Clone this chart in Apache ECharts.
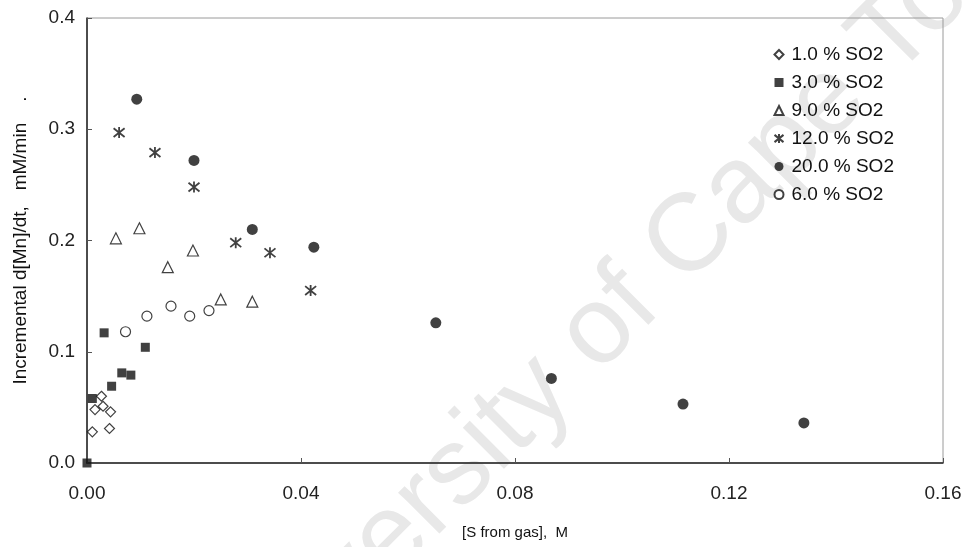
<!DOCTYPE html>
<html>
<head>
<meta charset="utf-8">
<script src="https://cdn.jsdelivr.net/npm/echarts@6/dist/echarts.min.js"></script>
<style>
  html, body { margin: 0; padding: 0; background: #fff; }
  #chart { width: 965px; height: 547px; }
</style>
</head>
<body>
<div id="chart"></div>
<script>
// [S from gas] (M) vs incremental d[Mn]/dt (mM/min), one array pair per SO2 level
const so2_1_x  = [0.001, 0.0015, 0.0027, 0.0030, 0.0044, 0.0042];
const so2_1_y  = [0.028, 0.048, 0.060, 0.051, 0.046, 0.031];

const so2_3_x  = [0.0000, 0.0010, 0.0046, 0.0065, 0.0082, 0.0109, 0.0032];
const so2_3_y  = [0.000, 0.058, 0.069, 0.081, 0.079, 0.104, 0.117];

const so2_9_x  = [0.0054, 0.0098, 0.0151, 0.0198, 0.0250, 0.0309];
const so2_9_y  = [0.202, 0.211, 0.176, 0.191, 0.147, 0.145];

const so2_12_x = [0.0060, 0.0127, 0.0200, 0.0278, 0.0342, 0.0418];
const so2_12_y = [0.297, 0.279, 0.248, 0.198, 0.189, 0.155];

const so2_20_x = [0.0093, 0.0200, 0.0309, 0.0424, 0.0652, 0.0868, 0.1114, 0.1340];
const so2_20_y = [0.327, 0.272, 0.210, 0.194, 0.126, 0.076, 0.053, 0.036];

const so2_6_x  = [0.0072, 0.0112, 0.0157, 0.0192, 0.0228];
const so2_6_y  = [0.118, 0.132, 0.141, 0.132, 0.137];

const seriesNames = ['1.0 % SO2', '3.0 % SO2', '9.0 % SO2', '12.0 % SO2', '20.0 % SO2', '6.0 % SO2'];
const xTicks = [0, 0.04, 0.08, 0.12, 0.16];
const yTicks = [0, 0.1, 0.2, 0.3, 0.4];

const pairs = (xs, ys) => xs.map((x, i) => [x, ys[i]]);

// asterisk marker: an X crossed by a vertical stroke
const starPath = 'path://M0,1L10,9M10,1L0,9M5,0L5,10';

const FONT = 'Liberation Sans, Arial, sans-serif';

const chart = echarts.init(document.getElementById('chart'), null, { renderer: 'canvas' });

const openStyle = { color: '#fff', borderColor: '#111', borderWidth: 1.2 };
const fillStyle = { color: '#111', borderColor: '#111', borderWidth: 0 };

chart.setOption({
  animation: false,
  backgroundColor: '#fff',
  graphic: [{
    type: 'text',
    z: -10,
    silent: true,
    x: 633, y: 297,
    rotation: 45 * Math.PI / 180,
    style: {
      text: 'University of Cape Town',
      font: '110px ' + FONT,
      fill: '#e8e8e8',
      align: 'center',
      verticalAlign: 'middle'
    }
  }],
  grid: {
    left: 87, right: 22, top: 18, bottom: 84,
    show: true, borderColor: '#9a9a9a', borderWidth: 1, backgroundColor: 'transparent'
  },
  legend: {
    orient: 'vertical',
    left: 767, top: 40,
    itemWidth: 9, itemHeight: 9,
    itemGap: 9,
    textStyle: { fontFamily: FONT, fontSize: 19, color: '#111', padding: [0, 0, 0, 3] },
    data: seriesNames
  },
  xAxis: {
    type: 'value',
    min: 0, max: 0.16, interval: 0.04,
    name: '[S from gas],  M',
    nameLocation: 'middle', nameGap: 62,
    nameTextStyle: { fontFamily: FONT, fontSize: 15, color: '#111' },
    axisLine: { show: true, lineStyle: { color: '#222', width: 1.5 } },
    axisTick: { show: true, inside: true, length: 5, lineStyle: { color: '#555' } },
    axisLabel: {
      fontFamily: FONT, fontSize: 19, color: '#222', margin: 21,
      formatter: v => xTicks.includes(+v.toFixed(2)) ? v.toFixed(2) : ''
    },
    splitLine: { show: false }
  },
  yAxis: {
    type: 'value',
    min: 0, max: 0.4, interval: 0.1,
    name: 'Incremental d[Mn]/dt,   mM/min    .',
    nameLocation: 'middle', nameGap: 57, nameRotate: 90,
    nameTextStyle: { fontFamily: FONT, fontSize: 19, color: '#111' },
    axisLine: { show: true, lineStyle: { color: '#222', width: 1.5 } },
    axisTick: { show: true, inside: true, length: 5, lineStyle: { color: '#555' } },
    axisLabel: {
      fontFamily: FONT, fontSize: 19, color: '#222', margin: 12,
      formatter: v => yTicks.includes(+v.toFixed(1)) ? v.toFixed(1) : ''
    },
    splitLine: { show: false }
  },
  series: [
    { name: seriesNames[0], type: 'scatter', symbol: 'diamond', symbolSize: 10,
      itemStyle: openStyle, data: pairs(so2_1_x, so2_1_y) },
    { name: seriesNames[1], type: 'scatter', symbol: 'rect', symbolSize: 9,
      itemStyle: fillStyle, data: pairs(so2_3_x, so2_3_y) },
    { name: seriesNames[2], type: 'scatter', symbol: 'triangle', symbolSize: 11,
      itemStyle: openStyle, data: pairs(so2_9_x, so2_9_y) },
    { name: seriesNames[3], type: 'scatter', symbol: starPath, symbolSize: 11,
      itemStyle: { color: 'none', borderColor: '#111', borderWidth: 1.8 }, data: pairs(so2_12_x, so2_12_y) },
    { name: seriesNames[4], type: 'scatter', symbol: 'circle', symbolSize: 11,
      itemStyle: fillStyle, data: pairs(so2_20_x, so2_20_y) },
    { name: seriesNames[5], type: 'scatter', symbol: 'circle', symbolSize: 10,
      itemStyle: openStyle, data: pairs(so2_6_x, so2_6_y) }
  ]
});
</script>
</body>
</html>
